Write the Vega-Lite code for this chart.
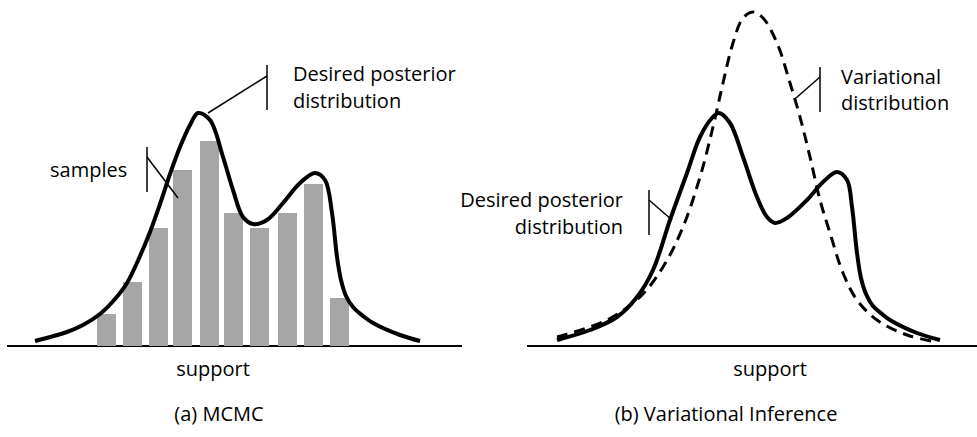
{
  "$schema": "https://vega.github.io/schema/vega-lite/v6.json",
  "autosize": "pad",
  "padding": 0,
  "spacing": 0,
  "bounds": "flush",
  "background": "white",
  "config": {
    "view": {"stroke": null},
    "text": {"font": "Open Sans", "fontSize": 20, "color": "#000"}
  },
  "datasets": {
    "baseA": [{"from": 7, "to": 462, "level": 0}],
    "baseB": [{"from": 37, "to": 487, "level": 0}],
    "bins": [
      {"start": 97, "end": 116, "count": 32},
      {"start": 123, "end": 142, "count": 64},
      {"start": 149, "end": 168, "count": 118},
      {"start": 173, "end": 192, "count": 176},
      {"start": 200, "end": 219, "count": 205},
      {"start": 224, "end": 243, "count": 133},
      {"start": 250, "end": 269, "count": 118},
      {"start": 278, "end": 297, "count": 133},
      {"start": 304, "end": 323, "count": 162},
      {"start": 330, "end": 349, "count": 48}
    ],
    "postA": [
      {"s": 35, "d": 5}, {"s": 67, "d": 14}, {"s": 83, "d": 21}, {"s": 100, "d": 32}, {"s": 115, "d": 47},
      {"s": 127, "d": 63}, {"s": 140, "d": 90}, {"s": 150, "d": 114}, {"s": 160, "d": 142},
      {"s": 170, "d": 172}, {"s": 180, "d": 199}, {"s": 190, "d": 221}, {"s": 198, "d": 233},
      {"s": 210, "d": 226}, {"s": 223, "d": 189},
      {"s": 233, "d": 156}, {"s": 243, "d": 129}, {"s": 253, "d": 122}, {"s": 267, "d": 126},
      {"s": 283, "d": 143}, {"s": 300, "d": 163}, {"s": 315, "d": 173}, {"s": 325, "d": 166},
      {"s": 332, "d": 133}, {"s": 337, "d": 89}, {"s": 341, "d": 66}, {"s": 346, "d": 50},
      {"s": 353, "d": 39}, {"s": 363, "d": 30}, {"s": 373, "d": 23}, {"s": 400, "d": 11}, {"s": 420, "d": 5}
    ],
    "postB": [
      {"s": 67, "d": 6}, {"s": 100, "d": 16}, {"s": 127, "d": 29}, {"s": 147, "d": 49},
      {"s": 163, "d": 76}, {"s": 180, "d": 126}, {"s": 197, "d": 173}, {"s": 210, "d": 209},
      {"s": 222, "d": 228}, {"s": 229, "d": 233}, {"s": 240, "d": 223}, {"s": 253, "d": 189},
      {"s": 267, "d": 149}, {"s": 277, "d": 129}, {"s": 285, "d": 123}, {"s": 297, "d": 128},
      {"s": 317, "d": 146}, {"s": 333, "d": 164}, {"s": 347, "d": 174}, {"s": 357, "d": 166},
      {"s": 362, "d": 139}, {"s": 367, "d": 93}, {"s": 371, "d": 68}, {"s": 376, "d": 52},
      {"s": 383, "d": 40}, {"s": 392, "d": 32}, {"s": 400, "d": 26}, {"s": 427, "d": 13}, {"s": 450, "d": 6}
    ],
    "varB": [
      {"s": 67, "d": 9}, {"s": 117, "d": 26}, {"s": 150, "d": 49}, {"s": 173, "d": 79},
      {"s": 193, "d": 119}, {"s": 210, "d": 169}, {"s": 223, "d": 219}, {"s": 233, "d": 263},
      {"s": 243, "d": 303}, {"s": 253, "d": 328}, {"s": 263, "d": 334}, {"s": 273, "d": 328},
      {"s": 287, "d": 303}, {"s": 300, "d": 263}, {"s": 310, "d": 229}, {"s": 320, "d": 189},
      {"s": 330, "d": 146}, {"s": 340, "d": 113}, {"s": 353, "d": 73}, {"s": 367, "d": 46},
      {"s": 387, "d": 26}, {"s": 417, "d": 11}, {"s": 447, "d": 4}
    ],
    "leadA": [
      {"s1": 267, "d1": 281, "s2": 267, "d2": 236},
      {"s1": 208, "d1": 233, "s2": 267, "d2": 270},
      {"s1": 147, "d1": 199, "s2": 147, "d2": 154},
      {"s1": 147, "d1": 189, "s2": 178, "d2": 148}
    ],
    "leadB": [
      {"s1": 330, "d1": 279, "s2": 330, "d2": 234},
      {"s1": 306, "d1": 248, "s2": 330, "d2": 269},
      {"s1": 159, "d1": 156, "s2": 159, "d2": 111},
      {"s1": 159, "d1": 146, "s2": 182, "d2": 126}
    ],
    "notesLeftA": [
      {"s": 293, "d": 265, "label": "Desired posterior"},
      {"s": 293, "d": 238, "label": "distribution"},
      {"s": 50, "d": 169, "label": "samples"}
    ],
    "notesCenterA": [
      {"s": 213, "d": -30, "label": "support"},
      {"s": 219, "d": -75, "label": "(a) MCMC"}
    ],
    "notesLeftB": [
      {"s": 351, "d": 262, "label": "Variational"},
      {"s": 351, "d": 236, "label": "distribution"}
    ],
    "notesRightB": [
      {"s": 133, "d": 139, "label": "Desired posterior"},
      {"s": 133, "d": 112, "label": "distribution"}
    ],
    "notesCenterB": [
      {"s": 280, "d": -30, "label": "support"},
      {"s": 236, "d": -75, "label": "(b) Variational Inference"}
    ]
  },
  "hconcat": [
    {
      "width": 490,
      "height": 437,
      "encoding": {},
      "layer": [
        {
          "data": {"name": "baseA"},
          "mark": {"type": "rule", "color": "#000", "strokeWidth": 2},
          "encoding": {
            "x": {"field": "from", "type": "quantitative", "scale": {"domain": [0, 490], "nice": false, "zero": false}, "axis": null},
            "x2": {"field": "to"},
            "y": {"field": "level", "type": "quantitative", "scale": {"domain": [-91, 346], "nice": false, "zero": false}, "axis": null}
          }
        },
        {
          "data": {"name": "bins"},
          "mark": {"type": "rect", "color": "#a6a6a6"},
          "encoding": {
            "x": {"field": "start", "type": "quantitative"},
            "x2": {"field": "end"},
            "y": {"field": "count", "type": "quantitative"},
            "y2": {"datum": 0}
          }
        },
        {
          "data": {"name": "postA"},
          "mark": {"type": "line", "color": "#000", "strokeWidth": 4, "interpolate": "catmull-rom"},
          "encoding": {
            "x": {"field": "s", "type": "quantitative"},
            "y": {"field": "d", "type": "quantitative"}
          }
        },
        {
          "data": {"name": "leadA"},
          "mark": {"type": "rule", "color": "#000", "strokeWidth": 1.5},
          "encoding": {
            "x": {"field": "s1", "type": "quantitative"},
            "y": {"field": "d1", "type": "quantitative"},
            "x2": {"field": "s2"},
            "y2": {"field": "d2"}
          }
        },
        {
          "data": {"name": "notesLeftA"},
          "mark": {"type": "text", "align": "left", "baseline": "alphabetic"},
          "encoding": {
            "x": {"field": "s", "type": "quantitative"},
            "y": {"field": "d", "type": "quantitative"},
            "text": {"field": "label"}
          }
        },
        {
          "data": {"name": "notesCenterA"},
          "mark": {"type": "text", "align": "center", "baseline": "alphabetic"},
          "encoding": {
            "x": {"field": "s", "type": "quantitative"},
            "y": {"field": "d", "type": "quantitative"},
            "text": {"field": "label"}
          }
        }
      ]
    },
    {
      "width": 487,
      "height": 437,
      "encoding": {},
      "layer": [
        {
          "data": {"name": "baseB"},
          "mark": {"type": "rule", "color": "#000", "strokeWidth": 2},
          "encoding": {
            "x": {"field": "from", "type": "quantitative", "scale": {"domain": [0, 487], "nice": false, "zero": false}, "axis": null},
            "x2": {"field": "to"},
            "y": {"field": "level", "type": "quantitative", "scale": {"domain": [-91, 346], "nice": false, "zero": false}, "axis": null}
          }
        },
        {
          "data": {"name": "varB"},
          "mark": {"type": "line", "color": "#000", "strokeWidth": 3, "strokeDash": [11, 7], "interpolate": "catmull-rom"},
          "encoding": {
            "x": {"field": "s", "type": "quantitative"},
            "y": {"field": "d", "type": "quantitative"}
          }
        },
        {
          "data": {"name": "postB"},
          "mark": {"type": "line", "color": "#000", "strokeWidth": 4, "interpolate": "catmull-rom"},
          "encoding": {
            "x": {"field": "s", "type": "quantitative"},
            "y": {"field": "d", "type": "quantitative"}
          }
        },
        {
          "data": {"name": "leadB"},
          "mark": {"type": "rule", "color": "#000", "strokeWidth": 1.5},
          "encoding": {
            "x": {"field": "s1", "type": "quantitative"},
            "y": {"field": "d1", "type": "quantitative"},
            "x2": {"field": "s2"},
            "y2": {"field": "d2"}
          }
        },
        {
          "data": {"name": "notesLeftB"},
          "mark": {"type": "text", "align": "left", "baseline": "alphabetic"},
          "encoding": {
            "x": {"field": "s", "type": "quantitative"},
            "y": {"field": "d", "type": "quantitative"},
            "text": {"field": "label"}
          }
        },
        {
          "data": {"name": "notesRightB"},
          "mark": {"type": "text", "align": "right", "baseline": "alphabetic"},
          "encoding": {
            "x": {"field": "s", "type": "quantitative"},
            "y": {"field": "d", "type": "quantitative"},
            "text": {"field": "label"}
          }
        },
        {
          "data": {"name": "notesCenterB"},
          "mark": {"type": "text", "align": "center", "baseline": "alphabetic"},
          "encoding": {
            "x": {"field": "s", "type": "quantitative"},
            "y": {"field": "d", "type": "quantitative"},
            "text": {"field": "label"}
          }
        }
      ]
    }
  ]
}
